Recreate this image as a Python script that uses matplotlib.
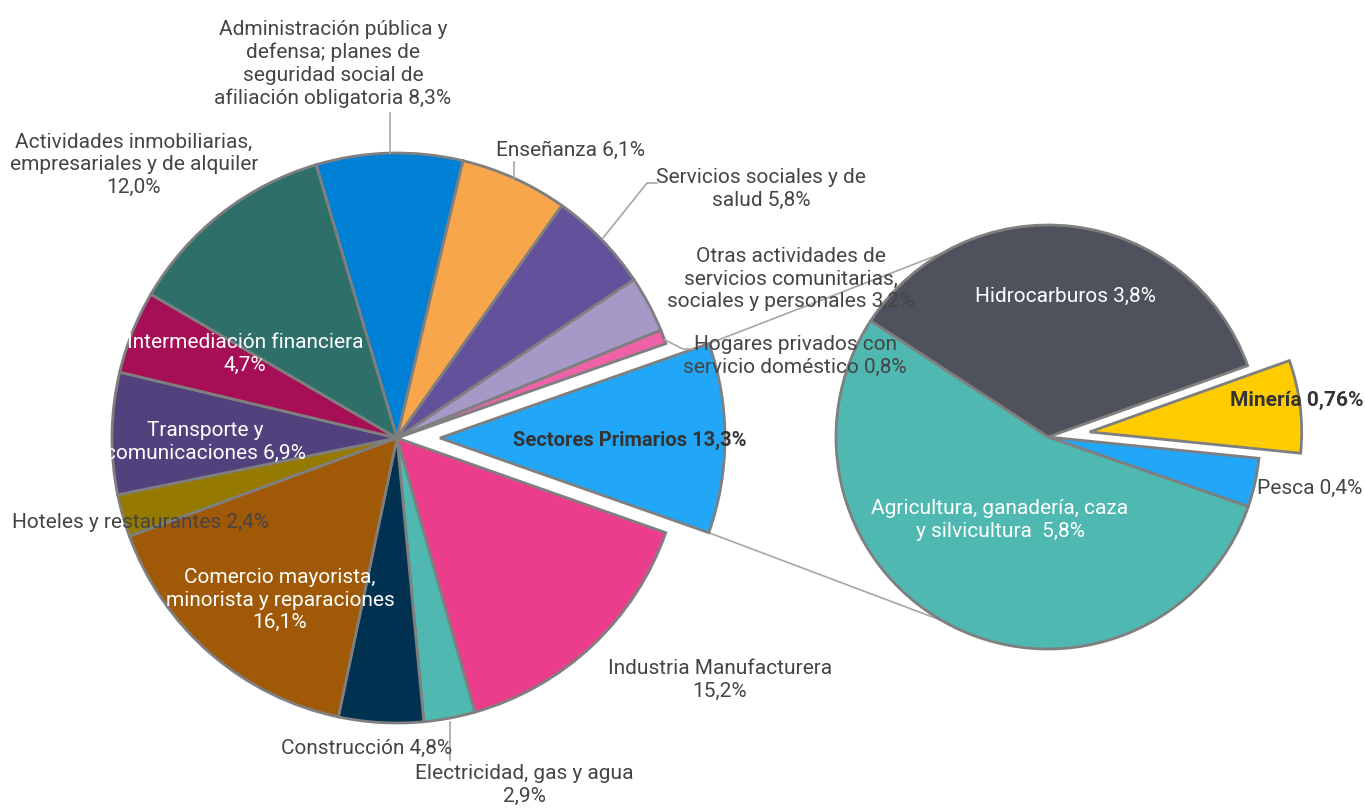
## pie of pie: PIB por actividad económica
## sektor primer dipecah di pie kanan

import numpy as np
import matplotlib.pyplot as plt

plt.rcParams['font.family'] = ['Roboto', 'DejaVu Sans']

## data pie utama (urut searah jarum jam, mulai Administración)
main_labels = ['Administración pública y\ndefensa; planes de\nseguridad social de\nafiliación obligatoria 8,3%',
               'Enseñanza 6,1%',
               'Servicios sociales y de\nsalud 5,8%',
               'Otras actividades de\nservicios comunitarias,\nsociales y personales 3,2%',
               'Hogares privados con\nservicio doméstico 0,8%',
               'Sectores Primarios 13,3%',
               'Industria Manufacturera\n15,2%',
               'Electricidad, gas y agua\n2,9%',
               'Construcción 4,8%',
               'Comercio mayorista,\nminorista y reparaciones\n16,1%',
               'Hoteles y restaurantes 2,4%',
               'Transporte y\ncomunicaciones 6,9%',
               'Intermediación financiera\n4,7%',
               'Actividades inmobiliarias,\nempresariales y de alquiler\n12,0%']
main_pct = [8.3, 6.1, 5.8, 3.2, 0.8, 13.3, 15.2, 2.9, 4.8, 16.1, 2.4, 6.9, 4.7, 12.0]
main_colors = ['#0080D5', '#F7A64B', '#63519C', '#A699C8', '#F062A8', '#22A6F8', '#EC3D8C',
               '#4FB8B0', '#003151', '#A05A07', '#967A00', '#51417C', '#A60F55', '#2E7069']

## data pie kedua (sektor primer)
sub_labels = ['Hidrocarburos 3,8%', 'Minería 0,76%', 'Pesca 0,4%',
              'Agricultura, ganadería, caza\ny silvicultura  5,8%']
sub_pct = [3.8, 0.76, 0.4, 5.8]
sub_colors = ['#4F525C', '#FFCC00', '#22A6F8', '#4FB8B0']

idx_primario = 5
# slice primer di pie utama ukurannya = jumlah pie kedua
main_size = list(main_pct)
main_size[idx_primario] = sum(sub_pct)

W, H = 1365, 808
fig = plt.figure(figsize=(W / 100, H / 100), dpi=100)
ax = fig.add_axes([0, 0, 1, 1])

edge = dict(edgecolor='#7F7F7F', linewidth=2, joinstyle='miter')

# pie utama
c1 = (397, H - 438)
R1 = 285
explode1 = [0] * len(main_size)
explode1[idx_primario] = 43
w1, _ = ax.pie(main_size, colors=main_colors, radius=R1, center=c1, startangle=106.5,
               counterclock=False, explode=explode1, wedgeprops=edge)

# pie kedua
c2 = (1048, H - 437)
R2 = 212
explode2 = [0, 42, 0, 0]
w2, _ = ax.pie(sub_pct, colors=sub_colors, radius=R2, center=c2, startangle=146.8,
               counterclock=False, explode=explode2, wedgeprops=edge)

ax.set_xlim(0, W)
ax.set_ylim(0, H)
ax.set_aspect('auto')
ax.axis('off')

# garis penghubung antar pie
wp = w1[idx_primario]
for th, th2 in [(wp.theta2, 120), (wp.theta1, 240)]:
    x0 = wp.center[0] + wp.r * np.cos(np.radians(th))
    y0 = wp.center[1] + wp.r * np.sin(np.radians(th))
    x1 = c2[0] + R2 * np.cos(np.radians(th2))
    y1 = c2[1] + R2 * np.sin(np.radians(th2))
    ax.plot([x0, x1], [y0, y1], color='#A6A6A6', lw=1.2, zorder=0.5)

# garis penunjuk label
lead = '#A6A6A6'
ax.plot([390, 390], [H - 113, H - 153], color=lead, lw=1.2)
ax.plot([514, 514], [H - 162, H - 178], color=lead, lw=1.2)
ax.plot([657, 647, 603], [H - 183, H - 183, H - 238], color=lead, lw=1.2)
ax.plot([665, 683, 693], [H - 340, H - 349, H - 349], color=lead, lw=1.2)
ax.plot([450, 450], [H - 722, H - 760], color=lead, lw=1.2)

# posisi label (pixel) + warna
grey = '#454545'
fs = 15
main_pos = [(333, 64, grey), (571, 150, grey), (761, 189, grey), (791, 279, grey),
            (795, 356, grey), (630, 440, '#333333'), (720, 680, grey), (524, 785, grey),
            (367, 748, grey), (280, 600, 'white'), (140, 523, grey), (205, 442, 'white'),
            (245, 354, 'white'), (134, 165, grey)]
for lab, (x, y, col), i in zip(main_labels, main_pos, range(len(main_labels))):
    bold = i == idx_primario
    ax.text(x, H - y, lab, ha='center', va='center', fontsize=14.5 if bold else fs, color=col,
            linespacing=1.22, fontweight='bold' if bold else 'normal', zorder=5)

sub_pos = [(1065, 296, 'white'), (1297, 400, '#333333'), (1310, 488, grey), (1000, 520, 'white')]
for lab, (x, y, col), i in zip(sub_labels, sub_pos, range(len(sub_labels))):
    bold = i == 1
    ax.text(x, H - y, lab, ha='center', va='center', fontsize=fs, color=col,
            linespacing=1.22, fontweight='bold' if bold else 'normal', zorder=5)

plt.savefig('out.png', dpi=100)
